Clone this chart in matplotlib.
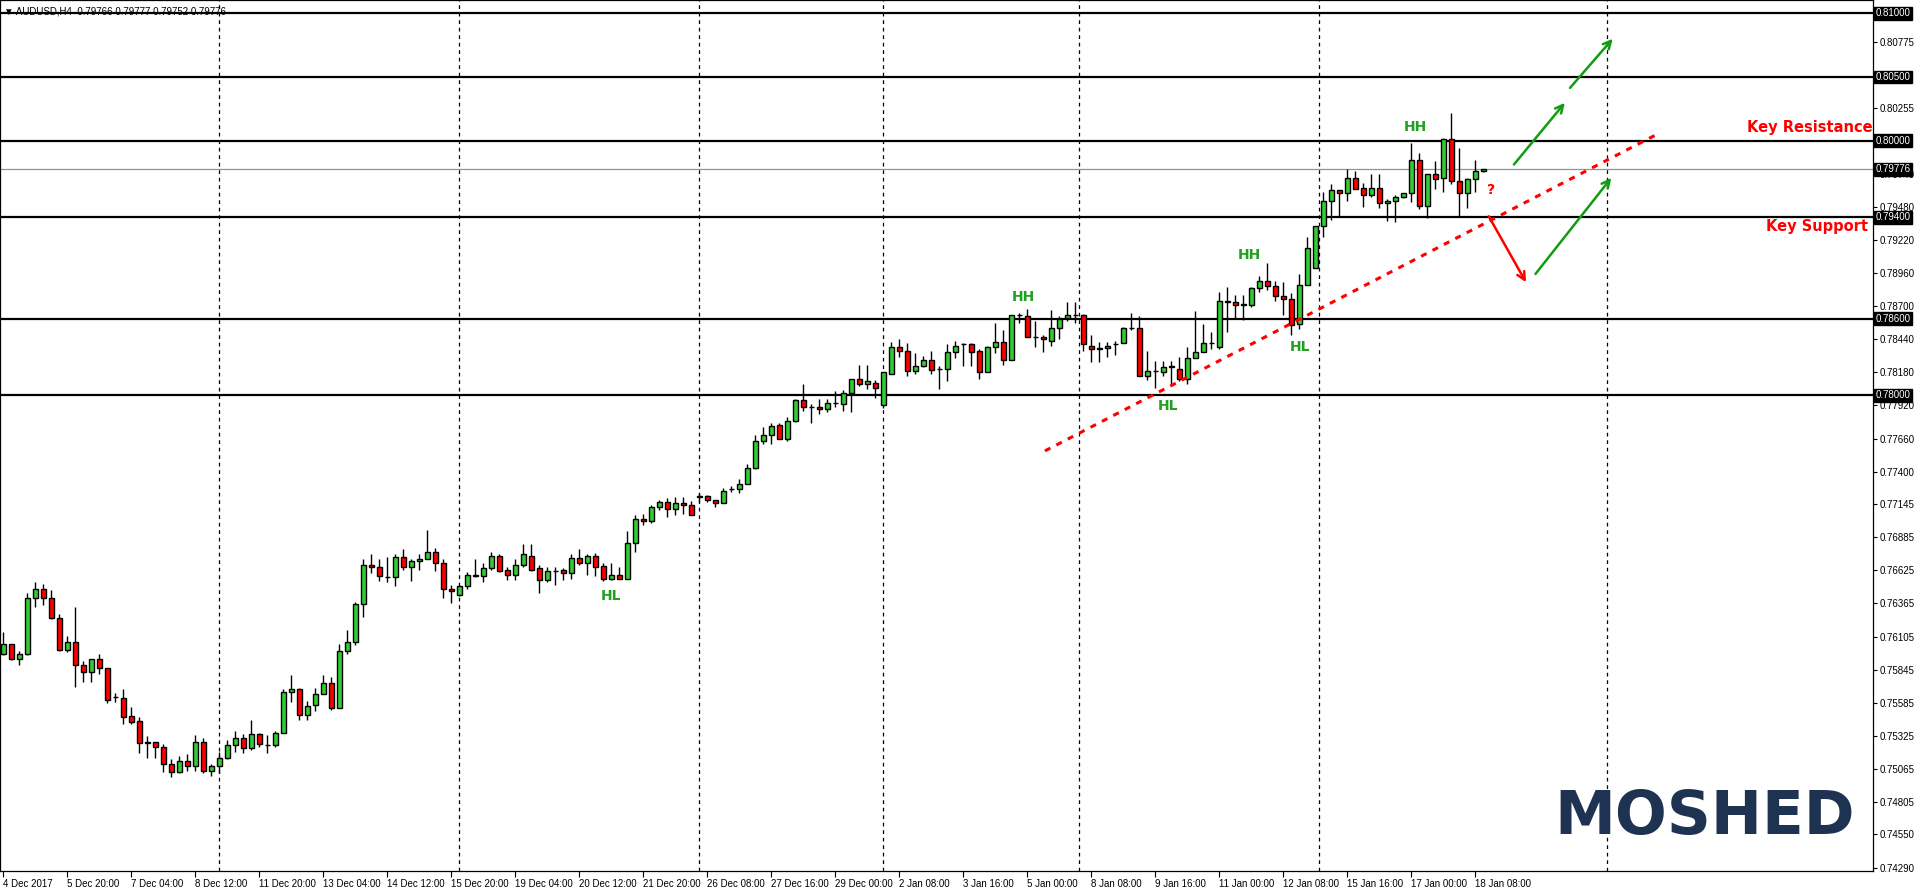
import numpy as np
import matplotlib
matplotlib.use("Agg")
import matplotlib.pyplot as plt

# AUDUSD H4 candles, prices in units of 0.0001
opens = [7597, 7605, 7593, 7597, 7641, 7648, 7641, 7625, 7600, 7606,
         7588, 7583, 7593, 7586, 7563, 7562, 7548, 7544, 7527, 7528,
         7524, 7510, 7504, 7513, 7509, 7528, 7505, 7509, 7515, 7525,
         7531, 7523, 7534, 7525, 7525, 7535, 7567, 7569, 7549, 7557,
         7565, 7574, 7554, 7599, 7606, 7636, 7667, 7665, 7657, 7657,
         7673, 7665, 7670, 7671, 7677, 7668, 7648, 7643, 7650, 7659,
         7658, 7664, 7674, 7663, 7659, 7667, 7674, 7664, 7655, 7662,
         7663, 7660, 7672, 7668, 7674, 7666, 7656, 7659, 7656, 7684,
         7703, 7701, 7712, 7716, 7711, 7715, 7714, 7720, 7721, 7718,
         7715, 7726, 7726, 7730, 7743, 7764, 7769, 7777, 7766, 7780,
         7796, 7791, 7791, 7789, 7794, 7793, 7802, 7813, 7809, 7810,
         7792, 7817, 7838, 7835, 7819, 7823, 7828, 7821, 7821, 7834,
         7840, 7840, 7835, 7818, 7838, 7842, 7828, 7863, 7862, 7846,
         7846, 7843, 7853, 7861, 7863, 7863, 7839, 7836, 7837, 7840,
         7841, 7853, 7853, 7815, 7819, 7818, 7823, 7821, 7813, 7829,
         7834, 7841, 7838, 7874, 7873, 7872, 7871, 7884, 7890, 7886,
         7878, 7876, 7856, 7887, 7900, 7933, 7953, 7961, 7959, 7971,
         7963, 7957, 7963, 7951, 7953, 7956, 7959, 7985, 7949, 7974,
         7971, 8001, 7968, 7959, 7970, 7976]
highs = [7614, 7605, 7599, 7645, 7653, 7652, 7647, 7628, 7611, 7634,
         7591, 7593, 7597, 7586, 7566, 7569, 7555, 7547, 7532, 7528,
         7526, 7514, 7517, 7518, 7533, 7531, 7510, 7520, 7529, 7536,
         7534, 7545, 7535, 7533, 7536, 7569, 7580, 7570, 7560, 7570,
         7580, 7579, 7605, 7616, 7638, 7671, 7675, 7671, 7673, 7675,
         7679, 7671, 7675, 7694, 7680, 7671, 7651, 7651, 7661, 7671,
         7668, 7677, 7675, 7665, 7671, 7683, 7683, 7667, 7665, 7665,
         7664, 7675, 7679, 7675, 7676, 7668, 7668, 7665, 7693, 7706,
         7707, 7714, 7718, 7719, 7720, 7720, 7717, 7723, 7722, 7718,
         7727, 7729, 7734, 7746, 7769, 7775, 7778, 7778, 7783, 7797,
         7809, 7793, 7797, 7797, 7803, 7804, 7813, 7824, 7824, 7812,
         7818, 7842, 7844, 7841, 7833, 7831, 7835, 7823, 7840, 7843,
         7841, 7841, 7836, 7839, 7857, 7851, 7863, 7865, 7868, 7858,
         7847, 7867, 7862, 7873, 7873, 7864, 7847, 7842, 7842, 7843,
         7854, 7865, 7862, 7835, 7827, 7827, 7827, 7830, 7838, 7866,
         7856, 7850, 7881, 7885, 7879, 7879, 7885, 7894, 7904, 7890,
         7889, 7880, 7895, 7924, 7933, 7960, 7966, 7961, 7978, 7976,
         7967, 7974, 7974, 7954, 7957, 7959, 7998, 7990, 7974, 7984,
         8002, 8022, 7994, 7971, 7985, 7978]
lows = [7596, 7592, 7588, 7596, 7634, 7635, 7624, 7599, 7598, 7571,
        7575, 7575, 7581, 7558, 7559, 7542, 7542, 7519, 7515, 7515,
        7504, 7500, 7503, 7505, 7505, 7503, 7501, 7503, 7514, 7520,
        7519, 7521, 7524, 7519, 7524, 7535, 7559, 7545, 7545, 7552,
        7565, 7553, 7554, 7597, 7604, 7626, 7660, 7654, 7653, 7650,
        7663, 7654, 7663, 7671, 7662, 7641, 7637, 7642, 7648, 7657,
        7653, 7663, 7661, 7655, 7655, 7665, 7662, 7645, 7653, 7651,
        7655, 7656, 7667, 7659, 7658, 7654, 7655, 7656, 7656, 7677,
        7698, 7700, 7710, 7704, 7706, 7707, 7706, 7716, 7716, 7712,
        7715, 7724, 7723, 7730, 7742, 7762, 7762, 7766, 7764, 7779,
        7788, 7778, 7785, 7787, 7791, 7788, 7787, 7807, 7805, 7798,
        7790, 7817, 7830, 7815, 7817, 7822, 7817, 7805, 7811, 7829,
        7823, 7823, 7813, 7818, 7833, 7824, 7828, 7857, 7846, 7838,
        7834, 7839, 7844, 7858, 7857, 7835, 7826, 7826, 7830, 7832,
        7841, 7851, 7815, 7812, 7806, 7815, 7807, 7811, 7809, 7829,
        7834, 7836, 7836, 7850, 7860, 7859, 7869, 7881, 7883, 7874,
        7863, 7847, 7852, 7887, 7900, 7924, 7938, 7940, 7953, 7962,
        7948, 7956, 7947, 7937, 7936, 7955, 7952, 7946, 7939, 7962,
        7960, 7966, 7940, 7947, 7960, 7975]
closes = [7605, 7593, 7597, 7641, 7648, 7641, 7625, 7600, 7606, 7588,
          7583, 7593, 7586, 7561, 7563, 7547, 7543, 7527, 7528, 7524,
          7510, 7504, 7513, 7509, 7528, 7505, 7509, 7515, 7525, 7531,
          7523, 7534, 7526, 7525, 7535, 7567, 7569, 7549, 7556, 7565,
          7574, 7554, 7599, 7606, 7636, 7667, 7665, 7658, 7657, 7673,
          7665, 7670, 7671, 7677, 7668, 7648, 7646, 7650, 7659, 7658,
          7664, 7674, 7662, 7659, 7667, 7675, 7663, 7655, 7662, 7662,
          7660, 7672, 7668, 7674, 7665, 7656, 7659, 7656, 7684, 7703,
          7701, 7712, 7716, 7711, 7715, 7714, 7706, 7721, 7718, 7715,
          7725, 7726, 7730, 7743, 7764, 7769, 7776, 7766, 7780, 7796,
          7791, 7791, 7789, 7794, 7794, 7802, 7813, 7809, 7811, 7806,
          7818, 7838, 7835, 7819, 7823, 7828, 7820, 7821, 7834, 7839,
          7840, 7834, 7818, 7838, 7842, 7828, 7863, 7863, 7846, 7846,
          7844, 7853, 7860, 7863, 7863, 7840, 7836, 7837, 7839, 7840,
          7853, 7853, 7815, 7819, 7819, 7822, 7822, 7813, 7829, 7834,
          7841, 7841, 7874, 7873, 7871, 7871, 7884, 7890, 7886, 7878,
          7876, 7855, 7887, 7916, 7933, 7953, 7961, 7959, 7971, 7962,
          7957, 7963, 7951, 7953, 7956, 7959, 7985, 7949, 7974, 7970,
          8001, 7968, 7959, 7970, 7976, 7978]

date_labels = ["4 Dec 2017", "5 Dec 20:00", "7 Dec 04:00", "8 Dec 12:00", "11 Dec 20:00",
               "13 Dec 04:00", "14 Dec 12:00", "15 Dec 20:00", "19 Dec 04:00", "20 Dec 12:00",
               "21 Dec 20:00", "26 Dec 08:00", "27 Dec 16:00", "29 Dec 00:00", "2 Jan 08:00",
               "3 Jan 16:00", "5 Jan 00:00", "8 Jan 08:00", "9 Jan 16:00", "11 Jan 00:00",
               "12 Jan 08:00", "15 Jan 16:00", "17 Jan 00:00", "18 Jan 08:00"]
price_ticks = [0.80775, 0.80255, 0.79740, 0.79480, 0.79220, 0.78960, 0.78700, 0.78440,
               0.78180, 0.77920, 0.77660, 0.77400, 0.77145, 0.76885, 0.76625, 0.76365,
               0.76105, 0.75845, 0.75585, 0.75325, 0.75065, 0.74805, 0.74550, 0.74290]
levels = [0.81000, 0.80500, 0.80000, 0.79400, 0.78600, 0.78000]
last_price = 0.79776
vlines_at = [27, 57, 87, 110, 134.5, 164.5, 200.5]

o = np.array(opens) / 1e4
h = np.array(highs) / 1e4
l = np.array(lows) / 1e4
c = np.array(closes) / 1e4
x = np.arange(len(o))

plt.rcParams["font.family"] = ["Liberation Sans", "DejaVu Sans"]

W, H = 1916, 891
fig = plt.figure(figsize=(W / 100, H / 100), dpi=100)
ax = fig.add_axes([0, 1 - 871 / H, 1873 / W, 871 / H])
ax.set_xlim(-0.41, 233.7)
ax.set_ylim(0.74263, 0.81105)

for v in vlines_at:
    ax.axvline(v, color="black", lw=0.9, ls=(0, (3, 3)), zorder=1)
for lv in levels:
    ax.axhline(lv, color="black", lw=1.6, zorder=2)
ax.axhline(last_price, color="#8a94a0", lw=0.9, zorder=2)

colors = np.where(c > o, "#32cd32", np.where(c < o, "#ff0000", "black"))
ax.vlines(x, l, h, color="black", lw=1.0, zorder=3)
ax.bar(x, np.abs(c - o), bottom=np.minimum(o, c), width=0.62, color=colors,
       edgecolor="black", linewidth=1.0, zorder=4)

# trendline and scenario arrows
ax.plot([130.2, 207.1], [0.77563, 0.80063], color="red", lw=2.2, ls=(0, (2, 2.2)), zorder=5)
green = "#129c12"
for (x0, y0, x1, y1) in [(188.6, 0.79796, 195.4, 0.80314), (195.6, 0.80398, 201.4, 0.80817),
                         (191.3, 0.78936, 201.2, 0.79725)]:
    ax.annotate("", xy=(x1, y1), xytext=(x0, y0),
                arrowprops=dict(arrowstyle="->", color=green, lw=1.8, mutation_scale=14))
ax.annotate("", xy=(190.5, 0.78869), xytext=(185.5, 0.79425),
            arrowprops=dict(arrowstyle="->", color="red", lw=1.8, mutation_scale=14))

lab = dict(color="#22a022", fontsize=10, fontweight="bold", ha="center", va="center",
           family="DejaVu Sans")
for tx, ty, s in [(76, 0.76423, "HL"), (127.5, 0.78774, "HH"), (145.6, 0.77916, "HL"),
                  (155.8, 0.79102, "HH"), (162.1, 0.78380, "HL"), (176.5, 0.80110, "HH")]:
    ax.text(tx, ty, s, **lab)
ax.text(186, 0.79612, "?", color="red", fontsize=10, fontweight="bold", ha="center",
        va="center", family="DejaVu Sans")
ax.text(225.8, 0.80102, "Key Resistance", color="red", fontsize=10.5, fontweight="bold",
        ha="center", va="center", family="DejaVu Sans")
ax.text(226.7, 0.79322, "Key Support", color="red", fontsize=10.5, fontweight="bold",
        ha="center", va="center", family="DejaVu Sans")

ax.text(0.91, 0.028, "MOSHED", transform=ax.transAxes, color="#1e3252", fontsize=44,
        fontweight="bold", ha="center", va="bottom", family="DejaVu Sans")

# price axis
ax.yaxis.tick_right()
ax.set_yticks(price_ticks)
ax.set_yticklabels([f"{p:.5f}" for p in price_ticks])
ax.tick_params(axis="y", length=3, width=0.8, labelsize=7, pad=2)
for p in levels + [last_price]:
    ax.text(1.0012, p, f"{p:.5f}", transform=ax.get_yaxis_transform(), fontsize=7,
            color="white", va="center", ha="left", zorder=10, clip_on=False,
            bbox=dict(boxstyle="square,pad=0.15", fc="black", ec="black"))

# time axis
ax.set_xticks(np.arange(len(date_labels)) * 8)
ax.set_xticklabels(date_labels, ha="left")
ax.tick_params(axis="x", length=4, width=0.8, labelsize=7, pad=2)

for s in ax.spines.values():
    s.set_linewidth(0.9)

fig.text(0.002, 0.993, "\u25bc AUDUSD,H4  0.79766 0.79777 0.79752 0.79776", fontsize=7,
         va="top", ha="left")

fig.savefig("out.png", dpi=100)
